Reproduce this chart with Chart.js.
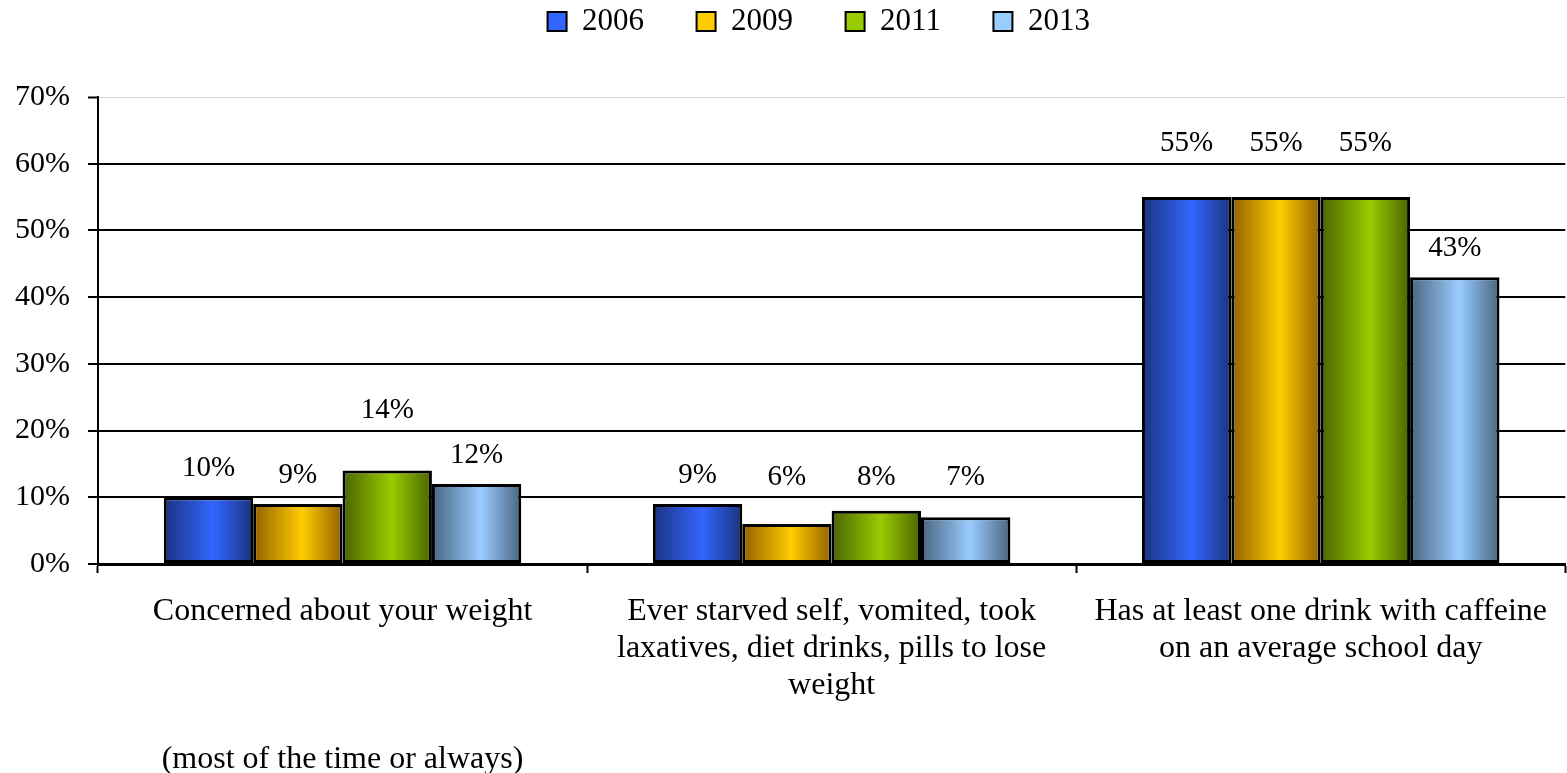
<!DOCTYPE html>
<html>
<head>
<meta charset="utf-8">
<script src="https://cdn.jsdelivr.net/npm/chart.js@4.4.1/dist/chart.umd.min.js"></script>
<style>
	html, body { margin: 0; padding: 0; background: #ffffff; }
	#wrap { width: 1567px; height: 773px; }
</style>
</head>
<body>
<div id="wrap"><canvas id="barChart"></canvas></div>
<script>
///
///	Data
///

// Category labels, one entry per line
const categories = [
	["Concerned about your weight", "", "", "", "(most of the time or always)"],
	["Ever starved self, vomited, took", "laxatives, diet drinks, pills to lose", "weight"],
	["Has at least one drink with caffeine", "on an average school day"]
];

// Survey years (legend)
const years = ["2006", "2009", "2011", "2013"];

// Percent values per year
const values2006 = [10, 9, 55];
const values2009 = [9, 6, 55];
const values2011 = [14, 8, 55];
const values2013 = [12, 7, 43];

// Y axis range
const yMin = 0;
const yMax = 70;
const yStep = 10;

// Bar colours: dark edge and light centre of each gradient
const darkColors = ["#1a3380", "#936100", "#4a6400", "#4a6580"];
const lightColors = ["#3366ff", "#ffcc00", "#99cc00", "#99ccff"];

const fontFamily = "'Liberation Serif', 'Times New Roman', serif";

///
///	Plugins
///

// Paint each bar with a horizontal dark-light-dark gradient
const barGradients = {
	id: "barGradients",
	beforeDatasetsDraw(chart) {
		const ctx = chart.ctx;
		chart.data.datasets.forEach((ds, i) => {
			chart.getDatasetMeta(i).data.forEach(bar => {
				const left = bar.x - bar.width / 2;
				const right = bar.x + bar.width / 2;
				const g = ctx.createLinearGradient(left, 0, right, 0);
				g.addColorStop(0, darkColors[i]);
				g.addColorStop(0.55, lightColors[i]);
				g.addColorStop(1, darkColors[i]);
				bar.options.backgroundColor = g;
			});
		});
	}
};

// Value labels above the bars, nudged above a gridline if they would touch it
const valueLabels = {
	id: "valueLabels",
	afterDatasetsDraw(chart) {
		const ctx = chart.ctx;
		const yScale = chart.scales.y;
		const gridPixels = [];
		for (let v = yMin + yStep; v <= yMax; v += yStep) gridPixels.push(yScale.getPixelForValue(v));
		ctx.save();
		ctx.font = "29px " + fontFamily;
		ctx.fillStyle = "#000000";
		ctx.textAlign = "center";
		ctx.textBaseline = "middle";
		chart.data.datasets.forEach((ds, i) => {
			chart.getDatasetMeta(i).data.forEach((bar, j) => {
				let y = bar.y - 29;
				gridPixels.forEach(gy => {
					if (y + 14 > gy - 2 && y - 14 < gy + 2) y = gy - 20;
				});
				ctx.fillText(ds.data[j] + "%", bar.x, y);
			});
		});
		ctx.restore();
	}
};

// Taller legend box so the plot starts lower; legend row sits a bit right of centre
const legendGap = {
	id: "legendGap",
	beforeLayout(chart) {
		const lg = chart.legend;
		if (lg && !lg._gapWrapped) {
			const fit = lg.fit.bind(lg);
			lg.fit = function () {
				fit();
				this.height = 97;
				if (this.lineWidths && this.lineWidths.length) this.lineWidths[0] -= 117;
			};
			lg._gapWrapped = true;
		}
	}
};

///
///	Chart
///

const seriesValues = [values2006, values2009, values2011, values2013];

const datasets = years.map((year, i) => ({
	label: year,
	data: seriesValues[i],
	backgroundColor: () => lightColors[i],
	borderColor: "#000000",
	borderWidth: 3,
	borderSkipped: false,
	barPercentage: 1.0,
	categoryPercentage: 0.731
}));

new Chart(document.getElementById("barChart"), {
	type: "bar",
	data: { labels: categories, datasets: datasets },
	options: {
		responsive: true,
		maintainAspectRatio: false,
		animation: false,
		events: [],
		layout: { padding: 0 },
		plugins: {
			tooltip: { enabled: false },
			legend: {
				position: "top",
				labels: {
					boxWidth: 19,
					boxHeight: 19,
					padding: 6,
					color: "#000000",
					font: { family: fontFamily, size: 31 },
					generateLabels(chart) {
						return chart.data.datasets.map((ds, i) => ({
							text: ds.label + "\u00a0".repeat(6),
							fillStyle: lightColors[i],
							strokeStyle: "#000000",
							lineWidth: 2,
							hidden: false,
							datasetIndex: i,
							fontColor: "#000000"
						}));
					}
				}
			}
		},
		scales: {
			x: {
				offset: true,
				afterFit(scale) { scale.height = 209; },
				grid: {
					offset: true,
					drawOnChartArea: false,
					drawTicks: true,
					tickLength: 9,
					tickColor: "#000000",
					tickWidth: 2
				},
				border: { display: true, color: "#000000", width: 3 },
				ticks: {
					color: "#000000",
					padding: 20,
					maxRotation: 0,
					autoSkip: false,
					font: { family: fontFamily, size: 32, lineHeight: 1.16 }
				}
			},
			y: {
				min: yMin,
				max: yMax,
				afterFit(scale) { scale.width = 98; },
				grid: {
					color: ctx => (ctx.tick && ctx.tick.value === yMax ? "#d4d4d4" : "#000000"),
					lineWidth: ctx => (ctx.tick && ctx.tick.value === yMax ? 1 : 2),
					tickLength: 10,
					tickColor: "#000000",
					tickWidth: 2
				},
				border: { display: true, color: "#000000", width: 2 },
				ticks: {
					stepSize: yStep,
					color: "#000000",
					padding: 18,
					font: { family: fontFamily, size: 30 },
					callback: v => v + "%"
				}
			}
		}
	},
	plugins: [barGradients, valueLabels, legendGap]
});
</script>
</body>
</html>
